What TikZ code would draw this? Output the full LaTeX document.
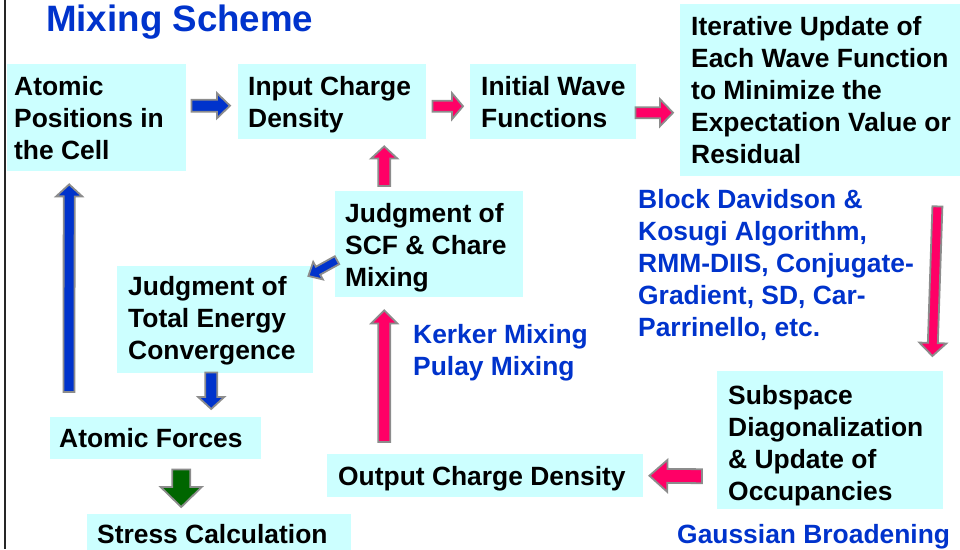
\documentclass[tikz,border=0pt]{standalone}
\usepackage{fontspec}
\setmainfont{Liberation Sans}
\usetikzlibrary{calc}
\definecolor{boxcyan}{HTML}{CCFFFF}
\definecolor{ablue}{HTML}{0033CC}
\definecolor{apink}{HTML}{FF0066}
\definecolor{agreen}{HTML}{006600}
\definecolor{agray}{HTML}{8C8C8C}
\definecolor{tblue}{HTML}{0033CC}
\tikzset{
  box/.style={fill=boxcyan, draw=none, inner sep=0pt, anchor=north west},
  boxtext/.style={anchor=north west, inner sep=0pt, align=left, label distance=0pt,
    font=\bfseries\fontsize{26.4}{32}\selectfont, text=black},
  bluetext/.style={anchor=north west, inner sep=0pt, align=left,
    font=\bfseries\fontsize{26.4}{32}\selectfont, text=tblue},
  titletext/.style={anchor=north west, inner sep=0pt,
    font=\bfseries\fontsize{36.7}{40}\selectfont, text=tblue},
  barrow/.style n args={4}{fill=#1, draw=agray, line width=1.8pt, line join=miter,
    to path={let \p1=(\tikztostart), \p2=(\tikztotarget),
      \n1={atan2(\y2-\y1,\x2-\x1)}, \n2={veclen(\x2-\x1,\y2-\y1)} in
      ($(\p1)+(\n1+90:#2pt)$) -- ($(\p1)+(\n1:\n2-#4pt)+(\n1+90:#2pt)$)
      -- ($(\p1)+(\n1:\n2-#4pt)+(\n1+90:#3pt)$) -- (\p2)
      -- ($(\p1)+(\n1:\n2-#4pt)+(\n1-90:#3pt)$) -- ($(\p1)+(\n1:\n2-#4pt)+(\n1-90:#2pt)$)
      -- ($(\p1)+(\n1-90:#2pt)$) -- cycle}}
}
\begin{document}
\begin{tikzpicture}[x=1pt,y=-1pt]
\useasboundingbox (0,0) rectangle (960,549);
\draw[line width=2pt, black!85] (5,0) -- (5,549);

\node[titletext] (title) at (46,5) {Mixing Scheme};

\node[box, minimum width=179pt, minimum height=107pt,
  label={[boxtext, xshift=7pt, yshift=-12pt]north west:{Atomic\\Positions in\\the Cell}}] (atomic) at (7,64) {};
\node[box, minimum width=188pt, minimum height=75pt,
  label={[boxtext, xshift=10pt, yshift=-12pt]north west:{Input Charge\\Density}}] (inputcd) at (238,64) {};
\node[box, minimum width=166pt, minimum height=75pt,
  label={[boxtext, xshift=11pt, yshift=-12pt]north west:{Initial Wave\\Functions}}] (initwf) at (470,64) {};
\node[box, minimum width=285pt, minimum height=172pt,
  label={[boxtext, xshift=11pt, yshift=-12pt]north west:{Iterative Update of\\Each Wave Function\\to Minimize the\\Expectation Value or\\Residual}}] (iter) at (680,4) {};
\node[box, minimum width=188pt, minimum height=106pt,
  label={[boxtext, xshift=10pt, yshift=-12pt]north west:{Judgment of\\SCF \& Chare\\Mixing}}] (scf) at (335,191) {};
\node[box, minimum width=196pt, minimum height=107pt,
  label={[boxtext, xshift=11pt, yshift=-10pt]north west:{Judgment of\\Total Energy\\Convergence}}] (toten) at (117,266) {};
\node[box, minimum width=211pt, minimum height=42pt,
  label={[boxtext, xshift=9pt, yshift=-11pt]north west:{Atomic Forces}}] (forces) at (50,417) {};
\node[box, minimum width=264pt, minimum height=45pt,
  label={[boxtext, xshift=10pt, yshift=-10pt]north west:{Stress Calculation}}] (stress) at (87,514) {};
\node[box, minimum width=316pt, minimum height=43pt,
  label={[boxtext, xshift=11pt, yshift=-12pt]north west:{Output Charge Density}}] (output) at (327,454) {};
\node[box, minimum width=226pt, minimum height=138pt,
  label={[boxtext, xshift=11pt, yshift=-14pt]north west:{Subspace\\Diagonalization\\\& Update of\\Occupancies}}] (subspace) at (717,371) {};

\node[bluetext] (algos) at (638,189) {Block Davidson \&\\Kosugi Algorithm,\\RMM-DIIS, Conjugate-\\Gradient, SD, Car-\\Parrinello, etc.};
\node[bluetext] (mixing) at (413,324) {Kerker Mixing\\Pulay Mixing};
\node[bluetext] (gauss) at (677,524) {Gaussian Broadening};

% block arrows
\draw[barrow={ablue}{6}{12.5}{13}] ([xshift=5pt,yshift=12pt]atomic.east) to ([xshift=-8pt,yshift=-4pt]inputcd.west);
\draw[barrow={apink}{5.5}{13}{11}] ([xshift=6pt,yshift=-4.5pt]inputcd.east) to ([xshift=-7pt,yshift=-4.5pt]initwf.west);
\draw[barrow={apink}{5.5}{13.5}{13}] ([xshift=-1pt,yshift=-11pt]initwf.east) to ([xshift=-7pt,yshift=-22.5pt]iter.west);
\draw[barrow={apink}{5}{13.5}{13}] ([xshift=-28pt,yshift=-30pt]iter.south east) to ([xshift=-11pt,yshift=15pt]subspace.north east);
\draw[barrow={apink}{7}{16}{18}] ([xshift=-15pt,yshift=-36pt]subspace.west) to ([xshift=6pt]output.east);
\draw[barrow={apink}{6}{13}{13}] ([xshift=-101pt,yshift=12pt]output.north) to ([xshift=-45pt,yshift=-13pt]scf.south);
\draw[barrow={apink}{6}{13}{12}] ([xshift=-45pt,yshift=5pt]scf.north) to ([xshift=52pt,yshift=-7pt]inputcd.south);
\draw[barrow={ablue}{4.5}{10}{11}] ([xshift=2pt,yshift=-16pt]scf.west) to ([xshift=-5pt,yshift=-10pt]toten.north east);
\draw[barrow={ablue}{6}{13}{12}] ([xshift=-4pt,yshift=1pt]toten.south) to ([xshift=55.5pt,yshift=8pt]forces.north);
\draw[barrow={agreen}{9}{20.5}{20}] ([xshift=25.5pt,yshift=-10pt]forces.south) to ([xshift=-38pt,yshift=7pt]stress.north);
\draw[barrow={ablue}{5.5}{13}{12}] ([xshift=19pt,yshift=25pt]forces.north west) to ([xshift=-27.5pt,yshift=-13pt]atomic.south);
\end{tikzpicture}
\end{document}
